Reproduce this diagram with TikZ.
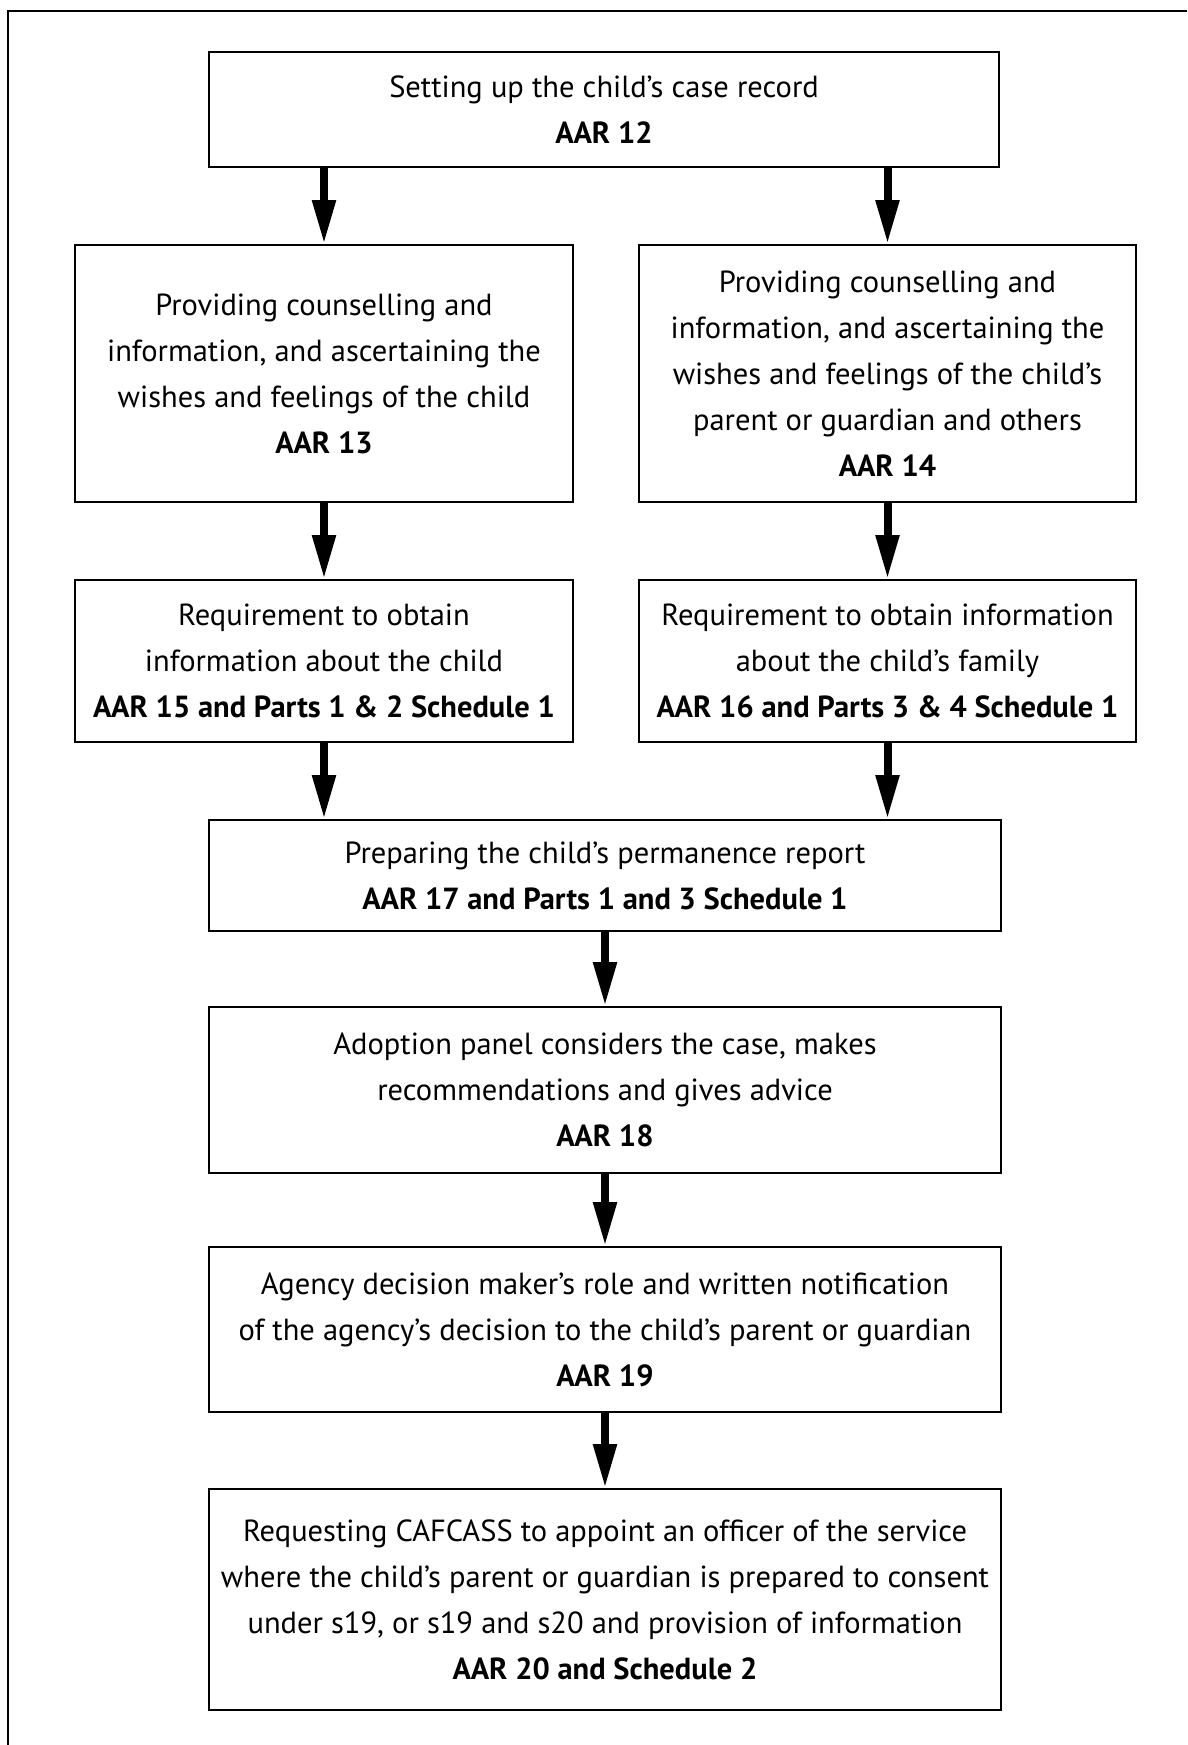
\documentclass[tikz,border=0pt]{standalone}
\usepackage{fontspec}
\setmainfont{PT Sans}
\usepackage{tikz}
\usetikzlibrary{arrows.meta}
\usetikzlibrary{calc}

\begin{document}
\begin{tikzpicture}[x=1pt,y=-1pt]
        \useasboundingbox (0,0) rectangle (1187,1745);
        \draw[line width=2pt] (8,1745) -- (8,11) -- (1187,11);

        \begin{scope}[every node/.style={draw,line width=1.6pt,align=center,inner sep=0pt,
                font=\fontsize{30.5pt}{46pt}\selectfont}]
            \node[minimum width=790pt,minimum height=115pt] (record) at (604,109.5)
                {Setting up the child’s case record\\\textbf{AAR 12}};
            \node[minimum width=498pt,minimum height=257pt] (counsel) at (324,373.5)
                {Providing counselling and\\information, and ascertaining the\\wishes and feelings of the child\\\textbf{AAR 13}};
            \node[minimum width=497pt,minimum height=257pt] (counselfam) at (887.5,373.5)
                {Providing counselling and\\information, and ascertaining the\\wishes and feelings of the child’s\\parent or guardian and others\\\textbf{AAR 14}};
            \node[minimum width=498pt,minimum height=162pt] (infochild) at (324,661)
                {Requirement to obtain\\information about the child\\\textbf{AAR 15 and Parts 1 \& 2 Schedule 1}};
            \node[minimum width=497pt,minimum height=162pt] (infofam) at (887.5,661)
                {Requirement to obtain information\\about the child’s family\\\textbf{AAR 16 and Parts 3 \& 4 Schedule 1}};
            \node[minimum width=792pt,minimum height=111pt] (report) at (605,875.5)
                {Preparing the child’s permanence report\\\textbf{AAR 17 and Parts 1 and 3 Schedule 1}};
            \node[minimum width=792pt,minimum height=166pt] (panel) at (605,1090)
                {Adoption panel considers the case, makes\\recommendations and gives advice\\\textbf{AAR 18}};
            \node[minimum width=792pt,minimum height=165pt] (decision) at (605,1329.5)
                {Agency decision maker’s role and written notification\\of the agency’s decision to the child’s parent or guardian\\\textbf{AAR 19}};
            \node[minimum width=792pt,minimum height=221pt] (cafcass) at (605,1599.5)
                {Requesting CAFCASS to appoint an officer of the service\\where the child’s parent or guardian is prepared to consent\\under s19, or s19 and s20 and provision of information\\\textbf{AAR 20 and Schedule 2}};
        \end{scope}

        \begin{scope}[>={Triangle[length=44pt,width=22pt]},
                every edge/.style={draw,line width=8pt}]
            \path [->] (record.south -| counsel)       edge (counsel);
            \path [->] (record.south -| counselfam)    edge (counselfam);
            \path [->] (counsel)                       edge (infochild);
            \path [->] (counselfam)                    edge (infofam);
            \path [->] (infochild)                     edge (infochild |- report.north);
            \path [->] (infofam)                       edge (infofam |- report.north);
            \path [->] (report)                        edge (panel);
            \path [->] (panel)                         edge (decision);
            \path [->] (decision)                      edge (cafcass);
        \end{scope}
    \end{tikzpicture}
\end{document}
